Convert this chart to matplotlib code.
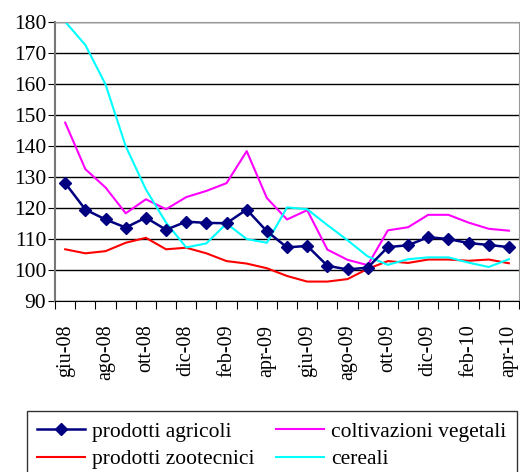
import numpy as np
import matplotlib.pyplot as plt

# === Data ===
mesi = ["giu-08", "lug-08", "ago-08", "set-08", "ott-08", "nov-08", "dic-08",
        "gen-09", "feb-09", "mar-09", "apr-09", "mag-09", "giu-09", "lug-09",
        "ago-09", "set-09", "ott-09", "nov-09", "dic-09", "gen-10", "feb-10",
        "mar-10", "apr-10"]

prodotti_agricoli = [128.0, 119.5, 116.3, 113.7, 116.9, 113.0, 115.6, 115.2, 115.1,
                     119.5, 112.5, 107.3, 107.8, 101.4, 100.2, 100.8, 107.4, 108.0,
                     110.6, 110.0, 108.7, 108.1, 107.4]
coltivazioni_vegetali = [147.5, 132.5, 126.6, 118.3, 122.8, 119.6, 123.5, 125.5, 128.0,
                         138.3, 123.2, 116.3, 119.3, 106.6, 103.3, 101.6, 112.8, 113.8,
                         117.8, 117.8, 115.3, 113.3, 112.7]
prodotti_zootecnici = [106.7, 105.4, 106.1, 108.8, 110.4, 106.7, 107.2, 105.4, 102.9,
                       102.1, 100.6, 98.1, 96.3, 96.3, 97.1, 100.4, 102.9, 102.3,
                       103.4, 103.4, 103.0, 103.4, 102.2]
cereali = [180.0, 172.5, 159.8, 139.9, 126.0, 115.3, 107.3, 108.6, 115.0,
           110.0, 108.8, 120.2, 119.6, 114.5, 109.6, 104.4, 101.7, 103.5,
           104.1, 104.1, 102.4, 101.0, 103.5]

plt.rcParams['font.family'] = ['Liberation Serif', 'DejaVu Serif']

fig = plt.figure(figsize=(5.2, 4.72), dpi=100)
ax = fig.add_axes([0.106, 0.362, 0.892, 0.592])

x = np.arange(len(mesi))
l1, = ax.plot(x, prodotti_agricoli, color='#000080', lw=1.8, marker='D', markersize=6.5,
              label='prodotti agricoli', zorder=5)
l2, = ax.plot(x, prodotti_zootecnici, color='#FF0000', lw=1.5, label='prodotti zootecnici')
l3, = ax.plot(x, coltivazioni_vegetali, color='#FF00FF', lw=1.5, label='coltivazioni vegetali')
l4, = ax.plot(x, cereali, color='#00FFFF', lw=1.5, label='cereali')

ax.set_xlim(-0.5, len(mesi) - 0.5)
ax.set_ylim(90, 180)
ax.set_yticks(np.arange(90, 181, 10))
ax.yaxis.grid(True, color='black', lw=1)
ax.set_axisbelow(True)

# tick marks between categories, labels every second month
ax.set_xticks(np.arange(-0.5, len(mesi)), labels=[])
ax.set_xticks(x[::2], labels=mesi[::2], minor=True, rotation=90)
ax.tick_params(axis='x', which='major', length=6, direction='out', color='black')
ax.tick_params(axis='x', which='minor', length=0, labelsize=14.5, pad=17)
ax.tick_params(axis='y', length=5, labelsize=15.5, pad=1.5)

for s in ['top', 'right']:
    ax.spines[s].set_color('#999999')
ax.spines['left'].set_color('#777777')
ax.spines['left'].set_linewidth(1.5)
ax.spines['bottom'].set_color('black')

leg = fig.legend(handles=[l1, l2, l3, l4], loc='upper left', ncol=2,
                 bbox_to_anchor=(0.052, 0.129), bbox_transform=fig.transFigure,
                 fontsize=15.5, frameon=True, fancybox=False, handlelength=2.2,
                 columnspacing=1.0, handletextpad=0.35, borderaxespad=0,
                 borderpad=0.48, labelspacing=0.35)
leg.get_frame().set_edgecolor('black')
leg.get_frame().set_linewidth(1.0)

fig.savefig('out.png', dpi=100)
